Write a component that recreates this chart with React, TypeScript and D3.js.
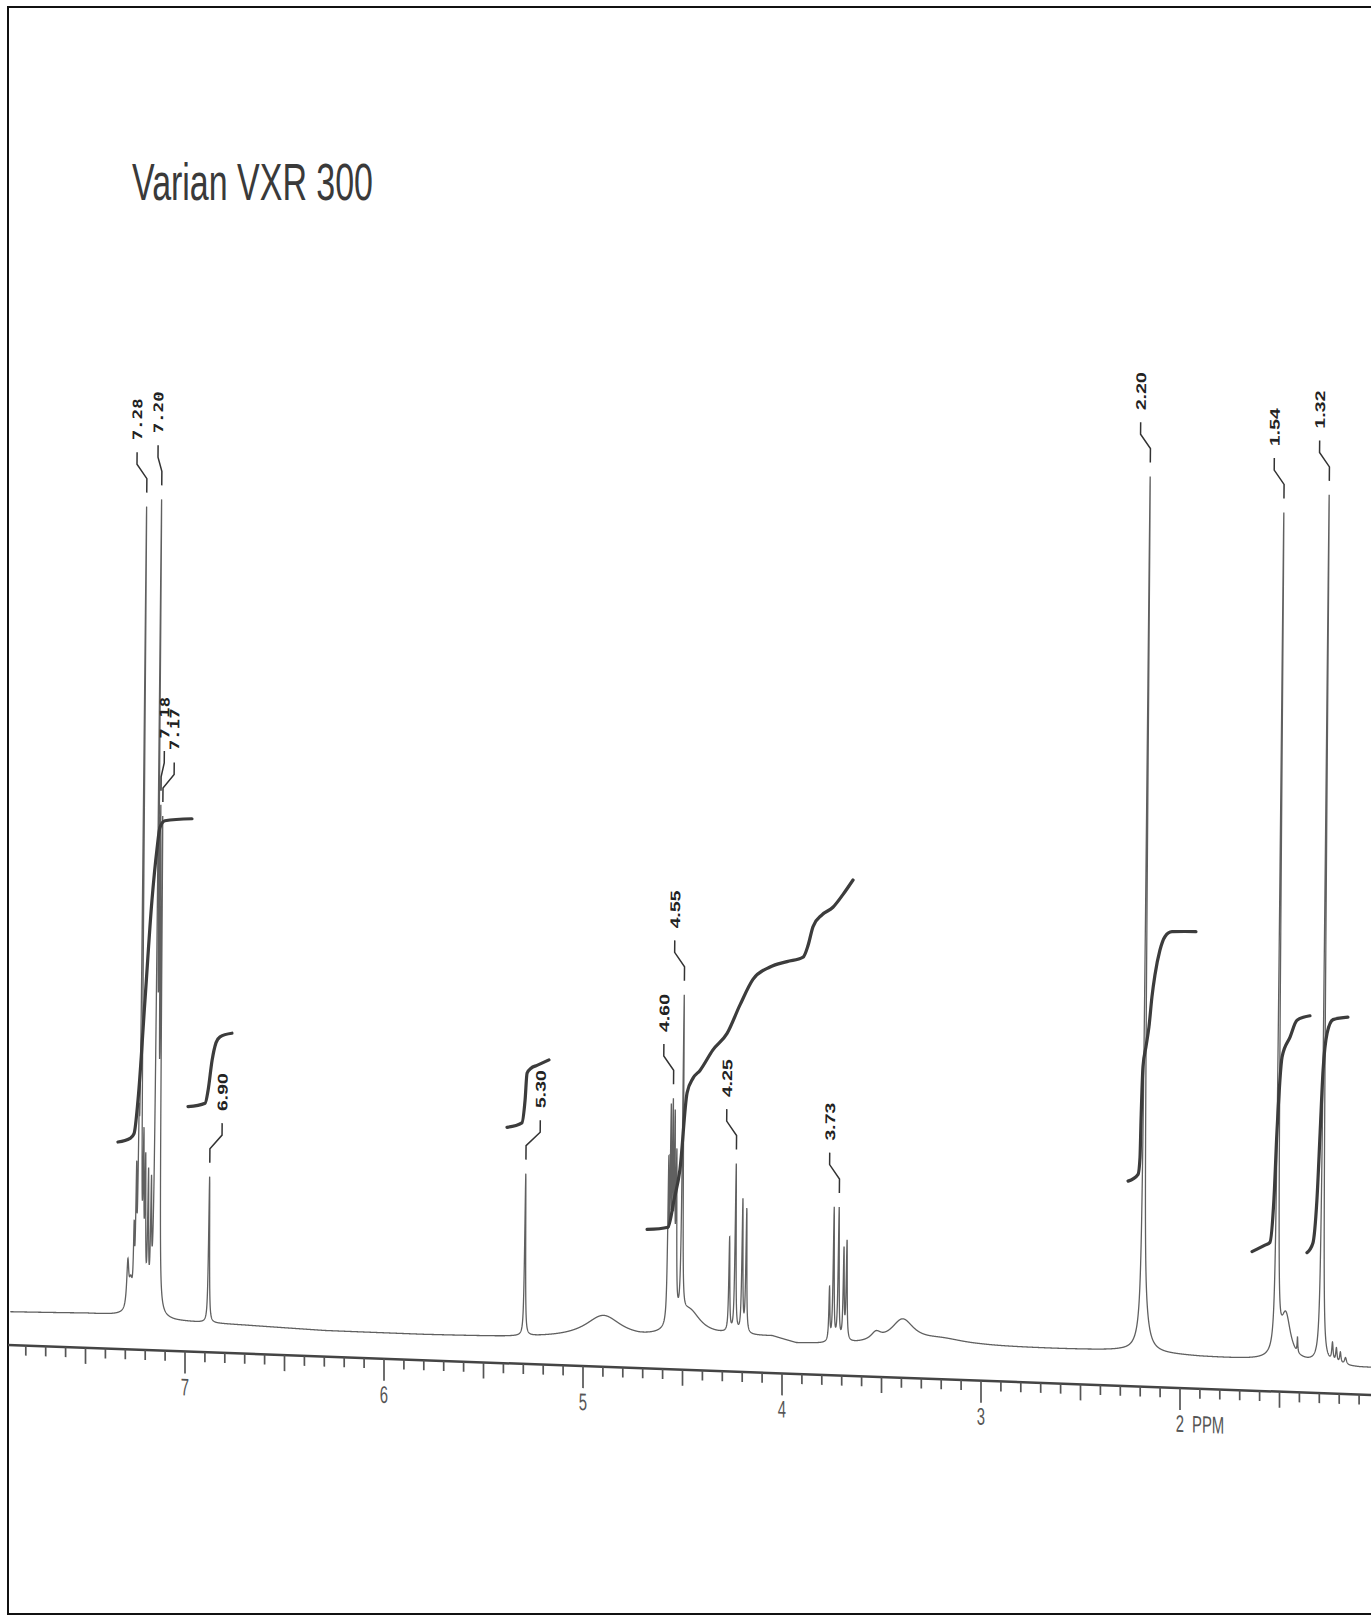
import React from "react";
import * as d3 from "d3";

const WIDTH = 1371;
const HEIGHT = 1616;

// peak lines: [ppm, height above baseline, half width at half height (ppm)]
const aromaticLines = [
  [7.291, 45, 0.006],
  [7.276, 25, 0.01],
  [7.261, 65, 0.003],
  [7.251, 115, 0.003],
  [7.241, 130, 0.003],
  [7.231, 785, 0.003],
  [7.216, 140, 0.003],
  [7.206, 130, 0.003],
  [7.191, 125, 0.003],
  [7.176, 110, 0.003],
  [7.156, 770, 0.003],
  [7.146, 410, 0.003],
  [7.136, 450, 0.003],
];
const singletLines = [
  [6.884, 146, 0.003],
  [5.296, 162, 0.003],
];
const methineLines = [
  [4.578, 150, 0.003],
  [4.568, 190, 0.003],
  [4.558, 190, 0.003],
  [4.548, 180, 0.003],
  [4.538, 150, 0.003],
  [4.508, 318, 0.003],
  [4.47, 26, 0.07],
];
const quartetLines = [
  [4.269, 94, 0.003],
  [4.239, 168, 0.003],
  [4.204, 132, 0.003],
  [4.184, 123, 0.003],
  [3.765, 53, 0.003],
  [3.745, 132, 0.003],
  [3.72, 132, 0.003],
  [3.694, 90, 0.003],
  [3.679, 98, 0.003],
];
const broadHumps = [
  [4.9, 23, 0.11],
  [3.53, 8, 0.03],
  [3.397, 24, 0.07],
  [3.2, 6, 0.15],
];
const aliphaticLines = [
  [2.191, 838, 0.0035],
  [2.185, 40, 0.025],
  [1.518, 835, 0.0035],
  [1.472, 45, 0.03],
  [1.412, 15, 0.002],
  [1.291, 868, 0.0035],
  [1.236, 18, 0.004],
  [1.216, 14, 0.004],
  [1.196, 11, 0.004],
  [1.17, 7, 0.006],
];

// baseline drift, level above the axis line
const baselinePpm = [7.95, 7.5, 7.33, 7.05, 6.7, 6.3, 5.8, 5.4, 5.05, 4.72, 4.3, 4.05, 3.93, 3.8, 3.6, 3.0, 2.6, 2.3, 1.9, 1.6, 1.4, 1.1, 0.95];
const baselineLevel = [33, 34.5, 33.7, 30, 28.4, 25.9, 25.5, 26, 27.4, 27.8, 34.4, 35.7, 29.8, 30, 31.2, 33.9, 34.4, 35, 32, 31, 29.9, 27.2, 27.4];

// integral traces: [ppm, level]
const integralAromatic = [[7.337, 207], [7.276, 211], [7.256, 216], [7.236, 250], [7.201, 350], [7.166, 450], [7.141, 501], [7.126, 523], [7.101, 530], [6.965, 533]];
const integral690 = [[6.985, 245], [6.899, 249], [6.884, 262], [6.864, 292], [6.844, 310], [6.824, 316], [6.764, 320]];
const integral530 = [[5.382, 236], [5.307, 241], [5.291, 264], [5.281, 291], [5.261, 296], [5.231, 299], [5.171, 305]];
const integral460 = [[4.678, 139], [4.573, 142], [4.543, 169], [4.513, 200], [4.477, 277], [4.447, 292], [4.412, 300], [4.347, 321], [4.276, 338], [4.211, 367], [4.146, 393], [4.06, 406], [3.975, 412], [3.894, 417], [3.869, 429], [3.844, 448], [3.799, 460], [3.744, 468], [3.694, 481], [3.643, 496]];
const integral220 = [[2.261, 205], [2.211, 212], [2.201, 229], [2.196, 265], [2.186, 320], [2.171, 340], [2.156, 360], [2.141, 390], [2.126, 412], [2.101, 437], [2.075, 451], [2.04, 456], [1.92, 457]];
const integral154 = [[1.638, 139], [1.573, 146], [1.548, 149], [1.528, 192], [1.513, 259], [1.487, 335], [1.447, 355], [1.412, 372], [1.347, 377]];
const integral132 = [[1.362, 140], [1.332, 150], [1.312, 193], [1.296, 260], [1.281, 323], [1.261, 360], [1.231, 374], [1.156, 377]];

const peakLabels = ["7.28", "7.20", "7.18", "7.17", "6.90", "5.30", "4.60", "4.55", "4.25", "3.73", "2.20", "1.54", "1.32"];
const peakLabelPpm = [7.231, 7.156, 7.146, 7.136, 6.884, 5.296, 4.558, 4.508, 4.239, 3.72, 2.191, 1.518, 1.291];

const majorTicks = [7, 6, 5, 4, 3, 2];
const axisUnit = "PPM";
const title = "Varian VXR 300";

// layout
const LEFT = 8;
const AXIS_Y = 1345;
const SKEW_Y = 0.0367;
const SHEAR_X = 0.009;
const labelDx: Record<string, number> = { "7.20": -4, "7.18": 3, "7.17": 11, "6.90": 12, "5.30": 14 };
const monoLabels = new Set(["7.28", "7.20", "7.18", "7.17"]);

const allPeaks = [...aromaticLines, ...singletLines, ...methineLines, ...quartetLines, ...broadHumps, ...aliphaticLines];

const x = d3.scaleLinear().domain([7, 2]).range([185, 1180]);
const y = d3.scaleLinear().domain([0, 1000]).range([AXIS_Y, AXIS_Y - 1000]);
const baseline = d3.scaleLinear().domain(baselinePpm).range(baselineLevel).clamp(true);

const spectrumAt = (p: number) => {
  let v = baseline(p);
  for (const [c, h, g] of allPeaks) {
    const d = p - c;
    v += (h * g * g) / (g * g + d * d);
  }
  return v;
};

const ppmGrid = d3
  .range(x.invert(LEFT + 2), x.invert(WIDTH + 5), -0.0008)
  .concat(allPeaks.map((p) => p[0]))
  .sort((a, b) => b - a);
const spectrumPoints = ppmGrid.map((p) => [p, spectrumAt(p)]);

const traceLine = d3.line<number[]>().x((d) => x(d[0])).y((d) => y(d[1]));
const integralLine = d3
  .line<number[]>()
  .x((d) => x(d[0]))
  .y((d) => y(d[1]))
  .curve(d3.curveMonotoneX);

const integrals = [integralAromatic, integral690, integral530, integral460, integral220, integral154, integral132];

const tickValues = d3.range(78, 10, -1);
const axisFont = "Liberation Sans, Arial, sans-serif";

export default function App() {
  return (
    <svg
      width={WIDTH}
      height={HEIGHT}
      style={{ position: "absolute", left: 0, top: 0, background: "#fff" }}
    >
      <rect x={0} y={0} width={WIDTH} height={HEIGHT} fill="#fff" />
      <path d={`M${WIDTH},7 H${LEFT} V1614 H${WIDTH}`} fill="none" stroke="#111" strokeWidth={2} />
      <text
        x={132}
        y={200}
        fontSize={52}
        fontFamily={axisFont}
        textLength={241}
        lengthAdjust="spacingAndGlyphs"
        fill="#3a3a3a"
      >
        {title}
      </text>

      <g transform={`matrix(1,${SKEW_Y},0,1,0,${-SKEW_Y * LEFT})`}>
        {/* axis */}
        <line x1={LEFT} x2={WIDTH + 10} y1={AXIS_Y} y2={AXIS_Y} stroke="#444" strokeWidth={2.5} />
        {tickValues.map((t) => {
          const len = t % 10 === 0 ? 22 : t % 5 === 0 ? 16 : 10;
          const tx = x(t / 10);
          return <line key={t} x1={tx} x2={tx} y1={AXIS_Y} y2={AXIS_Y + len} stroke="#555" strokeWidth={1.7} />;
        })}
        {majorTicks.map((t) => (
          <g key={t} transform={`translate(${x(t)},${AXIS_Y + 44}) scale(0.62,1)`}>
            <text textAnchor="middle" fontSize={24} fontFamily={axisFont} fill="#555">
              {t}
            </text>
          </g>
        ))}
        <g transform={`translate(${x(2) + 12},${AXIS_Y + 44}) scale(0.62,1)`}>
          <text fontSize={24} fontFamily={axisFont} fill="#555">
            {axisUnit}
          </text>
        </g>

        {/* spectrum and peak labels, pen slightly slanted */}
        <g transform={`matrix(1,0,${-SHEAR_X},1,${SHEAR_X * AXIS_Y},0)`}>
          <path d={traceLine(spectrumPoints) || ""} fill="none" stroke="#606060" strokeWidth={1.3} />
          {peakLabels.map((lab, i) => {
            const p = peakLabelPpm[i];
            const px = x(p);
            const yEnd = y(spectrumAt(p) + 14);
            const dx = labelDx[lab] ?? -10;
            const mono = monoLabels.has(lab);
            return (
              <g key={lab}>
                <path
                  d={`M${px},${yEnd} V${yEnd - 14} L${px + dx},${yEnd - 28} V${yEnd - 40}`}
                  fill="none"
                  stroke="#333"
                  strokeWidth={1.5}
                />
                <g transform={`translate(${px + dx},${yEnd - 52}) rotate(-90)`}>
                  <text
                    dy="0.36em"
                    fontSize={mono ? 13 : 14}
                    fontWeight="bold"
                    fontFamily={mono ? "DejaVu Sans Mono, monospace" : axisFont}
                    textLength={mono ? 42 : 38}
                    lengthAdjust="spacingAndGlyphs"
                    fill="#222"
                  >
                    {lab}
                  </text>
                </g>
              </g>
            );
          })}
        </g>

        {/* integral traces */}
        {integrals.map((pts, i) => (
          <path
            key={i}
            d={integralLine(pts) || ""}
            fill="none"
            stroke="#3c3c3c"
            strokeWidth={3.2}
            strokeLinecap="round"
          />
        ))}
      </g>
    </svg>
  );
}
